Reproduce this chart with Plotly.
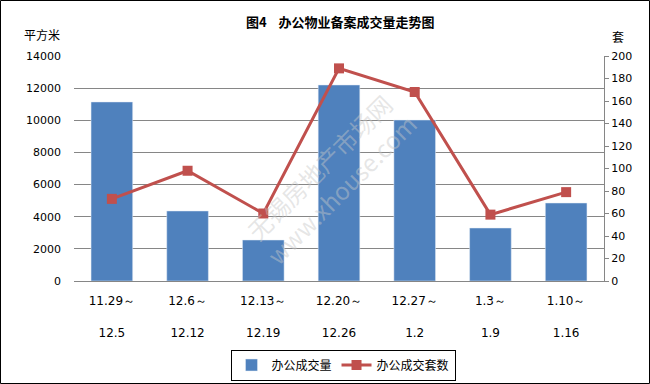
import plotly.graph_objects as go

categories = ["11.29～<br> <br>12.5", "12.6～<br> <br>12.12", "12.13～<br> <br>12.19",
              "12.20～<br> <br>12.26", "12.27～<br> <br>1.2", "1.3～<br> <br>1.9", "1.10～<br> <br>1.16"]
area = [11140, 4356, 2551, 12196, 10018, 3298, 4853]
units = [73, 98, 60, 189, 168, 59, 79]

L, R, T, B = 74, 46, 56, 103
PW, PH = 650 - L - R, 384 - T - B

def px(x):
    return (x - L) / PW

def py(y):
    return (T + PH - y) / PH

cjk = "Noto Sans CJK SC"
num = "DejaVu Sans"

fig = go.Figure()
fig.add_trace(go.Bar(x=categories, y=area, name="办公成交量", marker_color="#4F81BD",
                     yaxis="y"))
fig.add_trace(go.Scatter(x=categories, y=units, name="办公成交套数", yaxis="y2",
                         mode="lines+markers",
                         line=dict(color="#C0504D", width=3),
                         marker=dict(symbol="square", size=10, color="#C0504D")))

fig.update_layout(
    width=650, height=384,
    margin=dict(l=L, r=R, t=T, b=B, autoexpand=False),
    paper_bgcolor="white", plot_bgcolor="white",
    bargap=0.45,
    showlegend=True,
    legend=dict(orientation="h", xref="container", yref="container",
                x=343 / 650, y=1 - 365 / 384, xanchor="center", yanchor="middle",
                bordercolor="black", borderwidth=1, font=dict(family=cjk, size=12, color="black"),
                bgcolor="white"),
    xaxis=dict(showgrid=False, showline=True, linecolor="#868686", ticks="", automargin=False,
               ticklabelstandoff=9,
               tickfont=dict(family=num, size=12, color="black")),
    yaxis=dict(range=[0, 14000], dtick=2000, tickformat="d", showgrid=True, gridcolor="#868686",
               gridwidth=1, showline=False, ticks="", zeroline=False, automargin=False,
               ticklabelstandoff=12,
               tickfont=dict(family=num, size=11, color="black")),
    yaxis2=dict(range=[0, 200], dtick=20, tickformat="d", overlaying="y", side="right",
                showgrid=False, automargin=False,
                showline=True, linecolor="#868686", ticks="outside", ticklen=4,
                tickcolor="#868686", zeroline=False,
                tickfont=dict(family=num, size=11, color="black")),
    annotations=[
        dict(text="<b>图4    办公物业备案成交量走势图</b>", xref="paper", yref="paper",
             x=px(340), y=py(22), xanchor="center", yanchor="middle", showarrow=False,
             font=dict(family=cjk, size=13, color="black")),
        dict(text="平方米", xref="paper", yref="paper", x=px(42), y=py(34),
             xanchor="center", yanchor="middle", showarrow=False,
             font=dict(family=cjk, size=12, color="black")),
        dict(text="套", xref="paper", yref="paper", x=px(618), y=py(37),
             xanchor="center", yanchor="middle", showarrow=False,
             font=dict(family=cjk, size=12, color="black")),
        dict(text="无锡房地产市场网<br>www.xhouse.com", xref="paper", yref="paper",
             x=px(330), y=py(178), xanchor="center", yanchor="middle", showarrow=False,
             textangle=-45,
             font=dict(family=cjk, size=24, color="rgba(200,200,200,0.45)")),
    ],
    shapes=[
        dict(type="rect", xref="paper", yref="paper",
             x0=px(0.5), x1=px(649.5), y0=py(383.5), y1=py(0.5),
             line=dict(color="black", width=1), layer="above"),
    ],
)

fig.write_html("out.html")
